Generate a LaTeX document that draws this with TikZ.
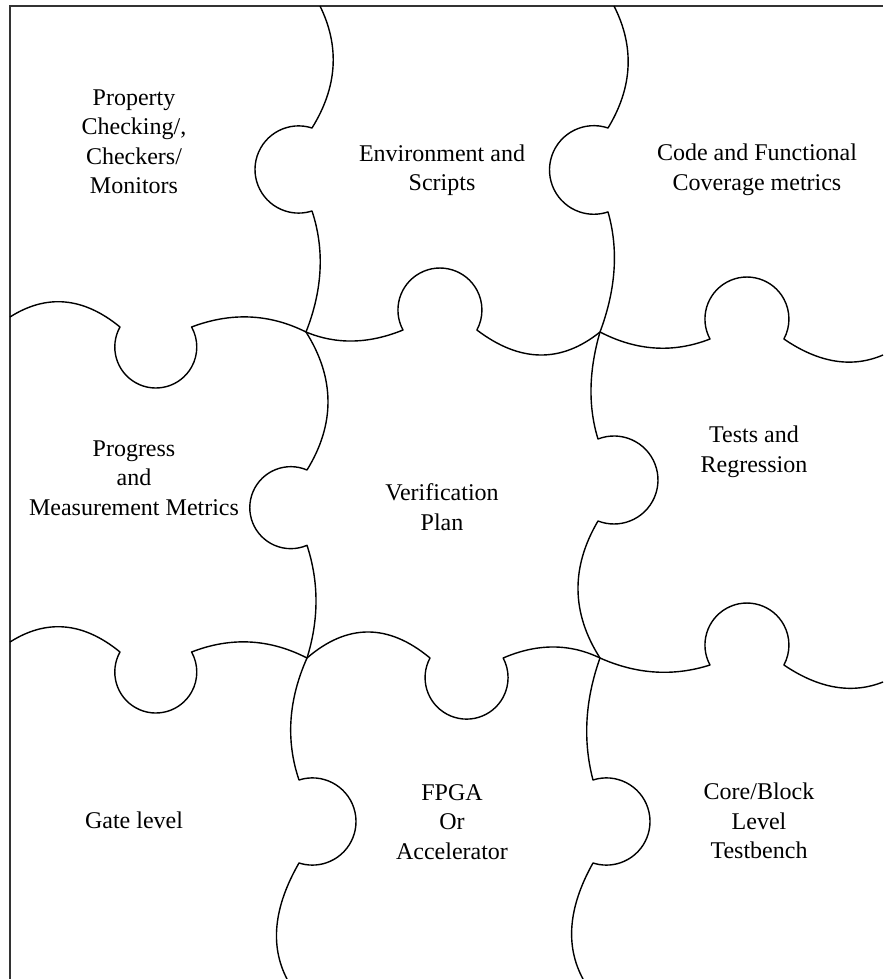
\documentclass[tikz,border=0pt]{standalone}
\usepackage{fontspec}
\setmainfont{Liberation Serif}
\definecolor{ink}{HTML}{000000}
\definecolor{frame}{HTML}{333333}

\begin{document}
\begin{tikzpicture}[x=0.5pt,y=-0.5pt,
  seam/.style={draw=ink,line width=0.7pt,line join=round},
  edge/.style={draw=frame,line width=0.7pt},
  lbl/.style={align=center,text=ink,inner sep=0pt,font=\fontsize{12}{14.75}\selectfont}]
  \useasboundingbox (0,0) rectangle (883,979);

  % ===== frame (left and top only) =====
  \draw[edge] (10,979) -- (10,6) -- (883,6);

  % ===== junctions =====
  \coordinate (j1) at (306,332);
  \coordinate (j2) at (600,332);
  \coordinate (j3) at (307,658);
  \coordinate (j4) at (600,658);

  % ===== horizontal seam, rows 1/2 =====
  \draw[seam] (10,317) .. controls (46.7,293.7) and (83.3,297) .. (120,327)
    arc[start angle=209.2,end angle=-29.2,radius=41]
    .. controls (231.3,312) and (269.5,313.7) .. (j1)
    .. controls (336.3,344.7) and (368.7,344) .. (403,330)
    arc[start angle=151.6,end angle=388.4,radius=42]
    .. controls (520,362.7) and (561,363.3) .. (j2)
    .. controls (636.7,351) and (673.3,353.3) .. (710,339)
    arc[start angle=151.6,end angle=388.4,radius=42]
    .. controls (819,363) and (852,368.3) .. (883,355);

  % ===== horizontal seam, rows 2/3 =====
  \draw[seam] (10,642) .. controls (46.7,618.7) and (83.3,622) .. (120,652)
    arc[start angle=209.2,end angle=-29.2,radius=41]
    .. controls (231,636.7) and (269.5,638.7) .. (j3)
    .. controls (347.3,623.3) and (388.3,623.3) .. (430,658)
    arc[start angle=208.2,end angle=-28.2,radius=41.5]
    .. controls (537.3,643.3) and (569.6,643.3) .. (j4)
    .. controls (636.7,674.3) and (673.3,676.7) .. (710,665)
    arc[start angle=151.6,end angle=388.4,radius=42]
    .. controls (819,688.7) and (852,694.3) .. (883,682);

  % ===== vertical seam, columns 1/2 =====
  \draw[seam] (320,6) .. controls (340,46.7) and (337.3,87.3) .. (312,128)
    arc[start angle=-72.1,end angle=-287.9,radius=43.6]
    .. controls (324.7,249.3) and (322.7,289.7) .. (j1)
    .. controls (335,378) and (335.3,424) .. (307,470)
    arc[start angle=-66.7,end angle=-293.3,radius=41]
    .. controls (319,582) and (319,619.5) .. (j3)
    .. controls (288.3,700) and (285.7,740.7) .. (299,780)
    arc[start angle=-107.9,end angle=107.9,radius=43.6]
    .. controls (273.7,907) and (269.7,945.7) .. (287,979);

  % ===== vertical seam, columns 2/3 =====
  \draw[seam] (614,6) .. controls (634.7,46.7) and (632.7,87.3) .. (608,128)
    arc[start angle=-71.3,end angle=-288.7,radius=44.3]
    .. controls (618.7,249.3) and (616,289.3) .. (j2)
    .. controls (588.7,371) and (588,406.7) .. (598,439)
    arc[start angle=-111.3,end angle=111.3,radius=44]
    .. controls (570.7,567.3) and (571.3,613) .. (j4)
    .. controls (585,700) and (582.7,740.7) .. (593,780)
    arc[start angle=-107.9,end angle=107.9,radius=43.6]
    .. controls (568.3,907) and (565,945.7) .. (583,979);

  % ===== labels =====
  \node[lbl] (prop) at (134,142) {Property\\Checking/,\\Checkers/\\Monitors};
  \node[lbl] (env) at (442,170) {Environment and\\Scripts};
  \node[lbl] (cov) at (757,170) {Code and Functional\\Coverage metrics};
  \node[lbl] (prog) at (134,478) {Progress\\and\\Measurement Metrics};
  \node[lbl] (vplan) at (442,507) {Verification\\Plan};
  \node[lbl] (tests) at (754,452) {Tests and\\Regression};
  \node[lbl] (gate) at (134,820) {Gate level};
  \node[lbl] (fpga) at (452,822) {FPGA\\Or\\Accelerator};
  \node[lbl] (core) at (759,821) {Core/Block\\Level\\Testbench};
\end{tikzpicture}
\end{document}
